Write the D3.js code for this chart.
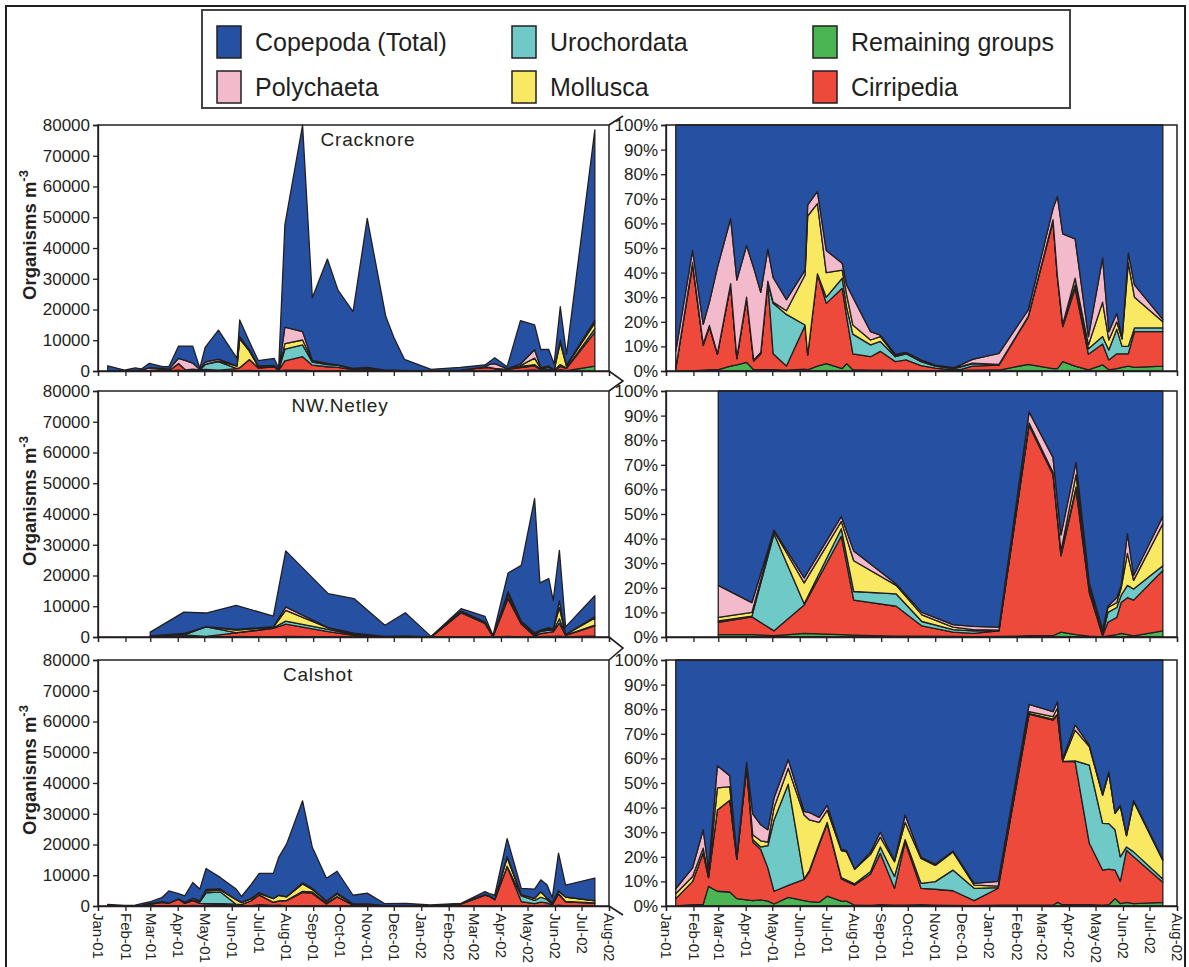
<!DOCTYPE html>
<html><head><meta charset="utf-8">
<script src="https://cdn.jsdelivr.net/npm/d3@7"></script>
<style>
body{margin:0;background:#fff}
svg{display:block}
text{font-family:"Liberation Sans",Arial,Helvetica,sans-serif;fill:#231f20}
</style>
</head><body>
<svg id="chart" width="1189" height="967"></svg>
<script>
// ---------------- DATA ----------------
const groupKeys = ["remaining","cirripedia","urochordata","mollusca","polychaeta","copepoda"];
const groupNames = {copepoda:"Copepoda (Total)", urochordata:"Urochordata", remaining:"Remaining groups",
                    polychaeta:"Polychaeta", mollusca:"Mollusca", cirripedia:"Cirripedia"};
const groupColors = {copepoda:"#2650a2", urochordata:"#6fc9c7", remaining:"#4cb553",
                     polychaeta:"#f2bacb", mollusca:"#f9e862", cirripedia:"#ee4a3b"};
const monthLabels = ["Jan-01","Feb-01","Mar-01","Apr-01","May-01","Jun-01","Jul-01","Aug-01","Sep-01","Oct-01",
                     "Nov-01","Dec-01","Jan-02","Feb-02","Mar-02","Apr-02","May-02","Jun-02","Jul-02","Aug-02"];
const yTicksAbs = [0,10000,20000,30000,40000,50000,60000,70000,80000];
const yTicksPct = [0,10,20,30,40,50,60,70,80,90,100];

// Cracknore: sampling dates, total organisms m-3, and % composition of each group (Copepoda = remainder)
const crackDates = ["2001-01-12","2001-01-31","2001-02-12","2001-02-19","2001-02-28","2001-03-15","2001-03-22","2001-04-02",
  "2001-04-10","2001-04-18","2001-04-26","2001-05-02","2001-05-17","2001-06-07","2001-06-10","2001-06-21","2001-07-01",
  "2001-07-19","2001-07-24","2001-07-31","2001-08-20","2001-08-31","2001-09-17","2001-09-29","2001-10-16","2001-11-01",
  "2001-11-22","2001-12-01","2001-12-13","2002-01-12","2002-02-14","2002-03-14","2002-03-19","2002-03-25","2002-04-08",
  "2002-04-23","2002-05-09","2002-05-16","2002-05-25","2002-05-31","2002-06-07","2002-06-14","2002-07-16"];
const crackTotal = [1700,300,1000,650,2500,1400,1400,8100,8100,8100,900,7700,13300,4100,16600,9500,3400,4100,870,47500,
  80000,23850,36400,26300,19300,49600,17700,11000,3800,540,1200,1950,3000,4300,1400,16400,15000,7000,7000,2300,20900,5400,78400];
const crackRemaining = [0,0,0.3,0.5,0.5,2,2.5,3.5,0.5,0.5,0.5,0.5,0.3,0.8,0.5,2,3,1,3,0.5,0.3,0.3,0.2,0.2,0.1,0.1,0.1,0.2,
  0.3,0.4,2.7,1,1,3.8,2,0.5,2.5,0.5,1,1.5,2,1.5,2];
const crackCirripedia = [1,43,10.2,17.5,6.3,33,2.5,26,3.5,6.5,35.5,6.5,1.7,17.7,6,37.5,24.5,32.6,19,6.5,5.5,7.7,3.6,4.3,2.1,
  1.1,0.3,0.6,1.7,2,19.3,59.7,37,14.2,31.6,6.3,8.5,4,6,5.5,5,14.5,14];
const crackUrochordata = [0,0.5,0,0,0.2,0,0,0,0,0,0,20.5,21,0.2,0,0,2.5,4.1,4,8,4.8,4,2,2.5,1.6,0.8,0.6,1,1,0.2,0,0.3,0,
  0.5,1.4,2.2,3,4,10,3,3,1.5,1.5];
const crackMollusca = [0,0.5,0.5,0.5,0,0.5,0.5,0.5,0.5,0.5,0.5,0.5,1.5,20.3,56.5,28.5,10,3.3,5,3.7,2,2,0.5,0.3,0.4,0.2,0.2,
  0.2,0.2,0.1,0.2,0.5,0.5,0.5,2.7,1.6,14,4.1,3,3,34,12.5,2.5];
const crackPolychaeta = [7,5,8,9.5,35,26.5,31.5,21,37.5,24.5,13,10,4.5,2,4.5,5,9,2.8,4,11.3,3.4,0.6,0.5,0.3,0.3,0.2,0.2,0.7,
  1.5,4.5,2.6,4.5,32.5,36.7,16,3.4,18,3.4,3.4,0.5,4,5,1];

// NW.Netley
const netDates = ["2001-03-01","2001-04-08","2001-05-03","2001-06-06","2001-07-18","2001-08-01","2001-09-18","2001-10-17",
  "2001-11-21","2001-12-14","2002-01-12","2002-02-15","2002-03-14","2002-03-23","2002-04-09","2002-04-24","2002-05-09",
  "2002-05-15","2002-05-25","2002-05-30","2002-06-06","2002-06-13","2002-07-16"];
const netTotal = [1600,8100,7800,10300,6800,28000,14100,12500,3800,7900,200,9200,6700,500,20800,23300,45000,17600,19000,
  11900,28200,3300,13400];
const netRemaining = [1,1,0.5,1.5,1,0.8,0.3,0.3,0.2,0.1,0.2,0.5,0.5,2,1,0.3,0,0.5,1,1.5,1,0.5,2.5];
const netCirripedia = [5,7.2,2,11.5,40,14.2,12.2,4.2,1.8,1.4,2.3,85.5,65.5,31,59,17.7,0.5,5.5,7,12.5,15,14.5,24.5];
const netUrochordata = [0.5,0.3,39.5,0.5,3,3.5,5,1.8,1,1,0.1,0.3,0.5,0.5,1,2,0.5,4,4,3,5,4.5,2];
const netMollusca = [1.5,1.5,1,8.5,3,12.5,3.5,2.7,1,0.5,0.2,0.7,0.5,1.5,5,1,1,2,2,3,13,3.5,17];
const netPolychaeta = [13,4,0.5,2,2,4,0.5,1,1,1.3,1.2,4.5,6,6.5,5,1,1,0.5,2,1,8,2,3];

// Calshot
const calDates = ["2001-01-12","2001-01-31","2001-02-12","2001-02-18","2001-02-28","2001-03-14","2001-03-22","2001-04-02",
  "2001-04-09","2001-04-18","2001-04-26","2001-05-03","2001-05-19","2001-06-06","2001-06-12","2001-06-23","2001-07-02",
  "2001-07-18","2001-07-24","2001-08-02","2001-08-20","2001-08-31","2001-09-16","2001-09-28","2001-10-16","2001-11-01",
  "2001-11-21","2001-12-15","2002-01-11","2002-02-15","2002-03-14","2002-03-19","2002-03-25","2002-04-08","2002-04-24",
  "2002-05-09","2002-05-16","2002-05-23","2002-05-29","2002-06-05","2002-06-13","2002-07-16"];
const calTotal = [550,200,300,700,1300,2700,4900,4000,3300,7650,5500,12200,9300,5500,3100,7000,10600,10600,15800,20200,
  34200,19100,9000,11300,3500,4200,750,870,330,870,4700,4000,3500,21900,5700,5500,8500,6900,2700,17200,6800,9100];
const calRemaining = [0,0.5,0.7,8,6,5.7,3,2.5,2.2,2.5,2,0.8,3.5,2.2,1.8,1.5,4,2,2,0.3,0.2,0.5,0.3,0.3,0.5,0.3,0.2,0.1,0.3,
  0.3,0.3,1.5,0.5,0.5,0.5,0.3,0.5,3,1,1.5,1,1.5];
const calCirripedia = [3,9.5,20.9,3.5,33,37.3,16,53.5,23.8,20.5,13.5,5.2,4.9,8.6,12.2,23.5,29.5,9,8,8.2,12.8,20.9,6.9,25.7,
  6.7,6.5,6,2.1,6.9,77.7,75.3,76.1,58.2,58.2,25,14.3,14.5,11.6,9,21.2,19,8.2];
const calUrochordata = [0,0,0,0,0,0,0,0,1,1,9,29,41.1,0.2,0.5,0.5,0.5,0.5,0.5,0.5,1,2.6,4.8,1,2,3.1,8.4,5,0.3,0.3,0.4,0.4,
  0.1,0.3,31.8,19,18.5,16.4,10,1.3,2,1.3];
const calMollusca = [2,2,1.9,1,9,5.5,0.5,1,2,2.5,1.5,5,6.5,26,20.5,8.5,5,11,11.5,5.9,7,4,6,7,10.1,6.6,7.4,1.3,0.6,0.7,1,
  2.5,0.2,12.5,7.5,11.4,20.5,6.7,20.5,4.5,20.5,7.5];
const calPolychaeta = [2,3.5,7.5,2.5,9,4.5,0.5,1.5,8.5,6.5,5,4,3.6,1.5,3,2,2,0.5,0.5,0.1,1,2,0.4,3,0.5,0.5,0.4,0.7,1.9,3,
  2,2.5,1,2.1,0.6,0.5,0.5,0.3,0.5,0.5,0.5,0.5];

const sites = [
  {name:"Cracknore", dates:crackDates, total:crackTotal, pct:{remaining:crackRemaining, cirripedia:crackCirripedia,
     urochordata:crackUrochordata, mollusca:crackMollusca, polychaeta:crackPolychaeta}, titleX:368},
  {name:"NW.Netley", dates:netDates, total:netTotal, pct:{remaining:netRemaining, cirripedia:netCirripedia,
     urochordata:netUrochordata, mollusca:netMollusca, polychaeta:netPolychaeta}, titleX:340},
  {name:"Calshot", dates:calDates, total:calTotal, pct:{remaining:calRemaining, cirripedia:calCirripedia,
     urochordata:calUrochordata, mollusca:calMollusca, polychaeta:calPolychaeta}, titleX:318}
];

// ---------------- LAYOUT ----------------
const svg = d3.select("#chart");
const ink = "#231f20";
const leftX = [98, 609], rightX = [666, 1177];
const panelTops = [125, 391, 660], panelH = 246;
const parse = d3.timeParse("%Y-%m-%d");
const tStart = new Date(2001,0,1), tEnd = new Date(2002,7,1);
const months = d3.timeMonth.range(tStart, d3.timeDay.offset(tEnd,1));

// outer frame (bottom edge falls outside the picture)
svg.append("rect").attr("x",6).attr("y",6).attr("width",1179).attr("height",975)
  .attr("fill","none").attr("stroke",ink).attr("stroke-width",2);

// legend
const lg = svg.append("g");
lg.append("rect").attr("x",202).attr("y",10).attr("width",868).attr("height",98)
  .attr("fill","#fff").attr("stroke","#444").attr("stroke-width",2);
const legendItems = [
  {k:"copepoda", x:217, row:0},{k:"urochordata", x:512, row:0},{k:"remaining", x:813, row:0},
  {k:"polychaeta", x:217, row:1},{k:"mollusca", x:512, row:1},{k:"cirripedia", x:813, row:1}];
legendItems.forEach(it=>{
  const yc = it.row===0 ? 42 : 87;
  lg.append("rect").attr("x",it.x).attr("y",yc-16).attr("width",24).attr("height",32)
    .attr("fill",groupColors[it.k]).attr("stroke",ink).attr("stroke-width",1.5);
  lg.append("text").attr("x",it.x+38).attr("y",yc+9).attr("font-size",25).text(groupNames[it.k]);
});

const stack = d3.stack().keys(groupKeys);

sites.forEach((site,si)=>{
  const top = panelTops[si], bottom = top + panelH;
  const rowsAbs = [], rowsPct = [];
  site.dates.forEach((ds,i)=>{
    const ra = {date:parse(ds)}, rp = {date:parse(ds)};
    let sum = 0;
    groupKeys.slice(0,5).forEach(k=>{ const p = site.pct[k][i]; sum += p; rp[k]=p; ra[k]=site.total[i]*p/100; });
    rp.copepoda = 100 - sum; ra.copepoda = site.total[i]*(100-sum)/100;
    rowsAbs.push(ra); rowsPct.push(rp);
  });

  [["abs",leftX,rowsAbs,[0,80000],yTicksAbs],["pct",rightX,rowsPct,[0,100],yTicksPct]].forEach(([kind,xr,rows,dom,ticks])=>{
    const x = d3.scaleTime().domain([tStart,tEnd]).range(xr);
    const y = d3.scaleLinear().domain(dom).range([bottom, top]);
    const g = svg.append("g");
    const series = stack(rows);
    const area = d3.area().x(d=>x(d.data.date)).y0(d=>y(d[0])).y1(d=>y(d[1]));
    g.selectAll("path.a").data(series).join("path").attr("class","a")
      .attr("d",area).attr("fill",d=>groupColors[d.key])
      .attr("stroke",ink).attr("stroke-width",1.3).attr("stroke-linejoin","round");
    // frame
    g.append("rect").attr("x",xr[0]).attr("y",top).attr("width",xr[1]-xr[0]).attr("height",panelH)
      .attr("fill","none").attr("stroke",ink).attr("stroke-width",1.5);
    // y axis
    const ya = d3.axisLeft(y).tickValues(ticks).tickSize(5).tickPadding(3)
      .tickFormat(kind==="abs" ? (d=>String(d)) : (d=>d+"%"));
    const yg = g.append("g").attr("transform",`translate(${xr[0]},0)`).call(ya);
    yg.selectAll("text").attr("font-size",17).attr("fill",ink).attr("font-family",'"Liberation Sans",Arial,sans-serif');
    yg.selectAll("line,path").attr("stroke",ink).attr("stroke-width",1.3);
    // x axis
    const xa = d3.axisBottom(x).tickValues(months).tickSize(5).tickFormat((d,i)=>monthLabels[i]);
    const xg = g.append("g").attr("transform",`translate(0,${bottom})`).call(xa);
    xg.selectAll("line,path").attr("stroke",ink).attr("stroke-width",1.3);
    if (si===2) {
      xg.selectAll("text").attr("font-size",15).attr("fill",ink)
        .attr("font-family",'"Liberation Sans",Arial,sans-serif')
        .attr("text-anchor","start").attr("transform","rotate(90)")
        .attr("x",7).attr("y",0).attr("dy","0.35em");
    } else {
      xg.selectAll("text").remove();
    }
    if (kind==="abs") {
      g.append("text").attr("x",site.titleX).attr("y",top+21).attr("text-anchor","middle")
        .attr("font-size",19).attr("letter-spacing",0.8).text(site.name);
      const t = g.append("text").attr("transform",`translate(36,${top+110}) rotate(-90)`)
        .attr("text-anchor","middle").attr("font-size",18.5).attr("font-weight","bold");
      t.append("tspan").text("Organisms m");
      t.append("tspan").attr("dy",-8).attr("font-size",13).text("-3");
    }
  });
});

// zoom/break connector marks between left and right panels
const bx = 609, tip = 623;
const marks = [
  [[bx,125],[tip,116]],
  [[bx,371],[tip,381],[bx,391]],
  [[bx,637],[tip,648],[bx,660]],
  [[bx,906],[tip,915]]
];
marks.forEach(pts=>{
  svg.append("path").attr("d",d3.line()(pts)).attr("fill","none").attr("stroke",ink).attr("stroke-width",1.6);
});
</script>
</body></html>
